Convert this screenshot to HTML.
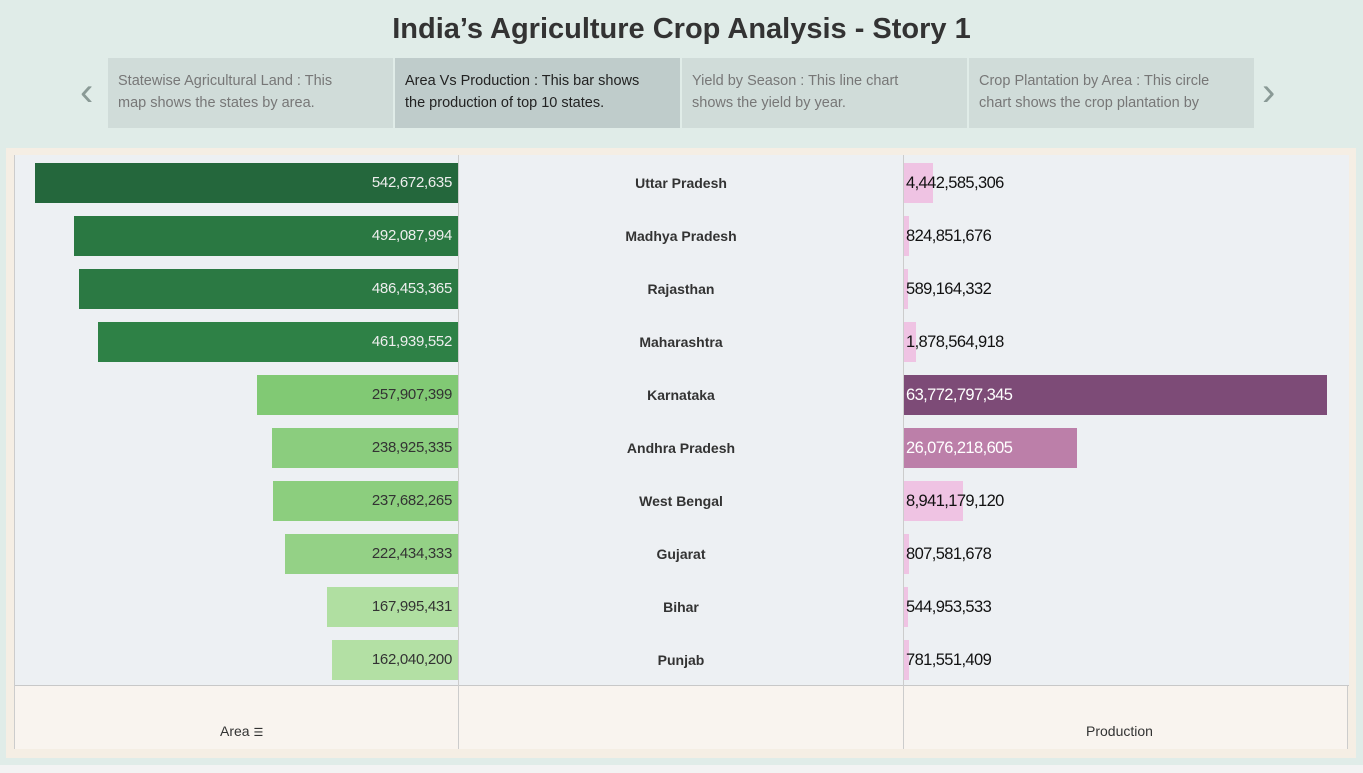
<!DOCTYPE html>
<html><head><meta charset="utf-8"><style>
*{margin:0;padding:0;box-sizing:border-box}
body{width:1363px;height:773px;background:#e0ece8;font-family:"Liberation Sans",sans-serif;position:relative;overflow:hidden}
.title{position:absolute;top:13px;left:0;width:1363px;text-align:center;font-size:29px;font-weight:bold;color:#333}
.nav{position:absolute;top:58px;height:70px;padding:12px 40px 12px 10px;font-size:14.5px;line-height:22px;color:#777;background:#d0dcd9;overflow:hidden}
.nav.active{background:#bfcccb;color:#222}
.arrow{position:absolute;top:70px;font-size:40px;color:#8a9a96;font-weight:100}
#panel{position:absolute;left:6px;top:148px;width:1350px;height:610px;background:#f5eee4}
#chart{position:absolute;left:14px;top:155px;width:1334px;height:594px;background:#f9f4ef;border-left:1px solid #ccc;border-right:1px solid #ccc}
#rows{position:absolute;left:0;top:0;width:1334px;height:531px;background:#edf0f3;border-bottom:1px solid #c8c8c8}
.vline{position:absolute;top:0;width:1px;height:594px;background:#ccc}
.bar{position:absolute;height:40px}
.lbl{position:absolute;font-size:15px;line-height:40px;letter-spacing:-0.3px}
.state{position:absolute;width:444px;text-align:center;font-size:14px;font-weight:bold;color:#333;line-height:40px}
.foot{position:absolute;top:568px;font-size:14px;color:#333}
#strip{position:absolute;left:0;top:765px;width:1363px;height:8px;background:#f3f3f3}
</style></head><body>
<div class="title">India’s Agriculture Crop Analysis - Story 1</div>
<div class="arrow" style="left:80px">‹</div>
<div class="nav" style="left:108px;width:285px">Statewise Agricultural Land : This map shows the states by area.</div>
<div class="nav active" style="left:395px;width:285px">Area Vs Production : This bar shows the production of top 10 states.</div>
<div class="nav" style="left:682px;width:285px">Yield by Season : This line chart shows the yield by year.</div>
<div class="nav" style="left:969px;width:285px">Crop Plantation by Area : This circle chart shows the crop plantation by</div>
<div class="arrow" style="left:1262px">›</div>
<div id="panel"></div>
<div id="chart">
<div id="rows"></div>
<div class="vline" style="left:443px"></div>
<div class="vline" style="left:888px"></div>
<div class="foot" style="left:205px">Area <span style="font-size:11px">☰</span></div>
<div class="foot" style="left:1071px">Production</div>
</div>
<div id="strip"></div>
<script>
const states=["Uttar Pradesh","Madhya Pradesh","Rajasthan","Maharashtra","Karnataka","Andhra Pradesh","West Bengal","Gujarat","Bihar","Punjab"];
const areaValues=[542672635,492087994,486453365,461939552,257907399,238925335,237682265,222434333,167995431,162040200];
const productionValues=[4442585306,824851676,589164332,1878564918,63772797345,26076218605,8941179120,807581678,544953533,781551409];
const rows=document.getElementById('rows');
const fmt=v=>v.toLocaleString('en-US');
const maxA=Math.max(...areaValues), maxP=Math.max(...productionValues);
const W=423, rowH=53, top0=8;
const xA=v=>v/maxA*W, xP=v=>v/maxP*W;
function mix(a,b,t){t=Math.max(0,Math.min(1,t));return 'rgb('+a.map((c,i)=>Math.round(c+(b[i]-c)*t)).join(',')+')';}
function greenCol(v){if(v>400e6)return mix([46,130,70],[36,103,60],(v-460e6)/(maxA-460e6));return mix([180,225,165],[128,200,115],(v-160e6)/(260e6-160e6));}
function pinkCol(v){const t=v/maxP;return t<0.2?'#efc3e3':mix([189,128,170],[125,75,119],(t-0.4)/0.6);}
states.forEach((s,i)=>{
  const y=top0+i*rowH;
  const a=areaValues[i], w=xA(a);
  const b=document.createElement('div');b.className='bar';
  
  
  b.style.cssText=`left:${443-w}px;top:${y}px;width:${w}px;background:${greenCol(a)}`;
  rows.appendChild(b);
  const l=document.createElement('div');l.className='lbl';
  
  
  l.style.cssText=`right:${1334-437}px;top:${y}px;color:${a>400e6?'#eee':'#333'}`;
  l.textContent=fmt(a);rows.appendChild(l);
  const st=document.createElement('div');st.className='state';
  
  
  st.style.cssText=`left:444px;top:${y}px`;st.textContent=s;rows.appendChild(st);
  const p=productionValues[i], pw=Math.max(xP(p),4);
  const pb=document.createElement('div');pb.className='bar';
  
  
  pb.style.cssText=`left:889px;top:${y}px;width:${pw}px;background:${pinkCol(p)}`;
  rows.appendChild(pb);
  const pl=document.createElement('div');pl.className='lbl';
  
  
  pl.style.cssText=`left:891px;top:${y}px;font-size:16.5px;letter-spacing:-0.6px;color:${p/maxP>0.3?'#fff':'#111'}`;
  pl.textContent=fmt(p);rows.appendChild(pl);
});
</script>
</body></html>
